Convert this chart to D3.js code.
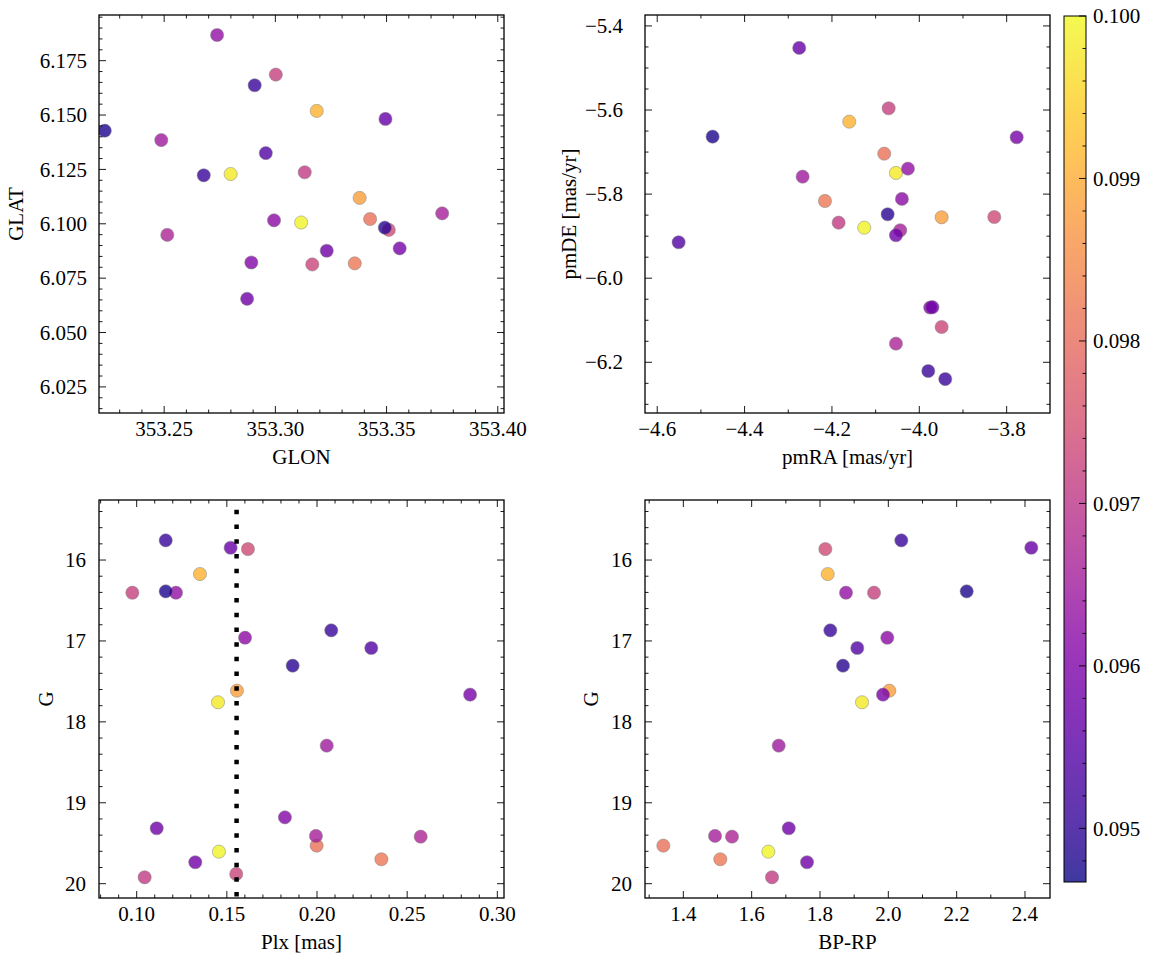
<!DOCTYPE html>
<html><head><meta charset="utf-8">
<script src="https://cdn.jsdelivr.net/npm/d3@7"></script>
<style>
html,body{margin:0;padding:0;background:#fff;}
text{font-family:"Liberation Serif","DejaVu Serif",serif;fill:#000;}
</style></head>
<body><svg id="fig" width="1155" height="965"></svg>
<script>
// ---------------- DATA (one entry per star) ----------------
const glon = [353.2678,353.3495,353.3510,353.3186,353.3002,353.2233,353.2738,353.2994,353.2907,353.2957,353.3492,353.3379,353.2799,353.3559,353.2487,353.2892,353.2873,353.3750,353.2514,353.3426,353.3116,353.3357,353.3231,353.3132,353.3166];
const glat = [6.1223,6.1482,6.0972,6.1519,6.1686,6.1428,6.1868,6.1016,6.1637,6.1325,6.0982,6.1119,6.1229,6.0887,6.1385,6.0822,6.0655,6.1048,6.0949,6.1022,6.1006,6.0818,6.0876,6.1237,6.0813];
const pmra = [-3.9795,-4.2749,-3.8284,-4.1604,-4.0702,-4.4732,-4.0260,-4.0398,-3.9406,-4.5510,-4.0725,-3.9489,-4.0535,-3.7771,-4.2671,-3.9751,-3.9700,-4.0437,-4.0535,-4.0803,-4.1261,-4.2160,-4.0535,-4.1847,-3.9489];
const pmde = [-6.2207,-5.4523,-5.8544,-5.6277,-5.5958,-5.6633,-5.7395,-5.8115,-6.2398,-5.9145,-5.8479,-5.8551,-5.7497,-5.6648,-5.7585,-6.0697,-6.0690,-5.8860,-6.1557,-5.7038,-5.8798,-5.8163,-5.8979,-5.8679,-6.1160];
const plx  = [0.1161,0.1521,0.1617,0.1351,0.0976,0.1161,0.1218,0.1601,0.2079,0.2301,0.1865,0.1556,0.1451,0.2849,0.2054,0.1822,0.1111,0.1994,0.2575,0.1998,0.1456,0.2357,0.1325,0.1044,0.1552];
const gmag = [15.757,15.848,15.864,16.173,16.404,16.387,16.404,16.960,16.869,17.087,17.306,17.615,17.758,17.664,18.294,19.180,19.315,19.410,19.419,19.530,19.604,19.698,19.735,19.921,19.880];
const bprp = [2.038,2.4185,1.8156,1.8226,1.9581,2.2294,1.8761,1.9970,1.8302,1.9092,1.8673,2.0029,1.9230,1.9844,1.6792,null,1.7085,1.4928,1.5425,1.3415,1.6488,1.5082,1.7620,1.6596,null];
const prob = [0.0951,0.0957,0.0974,0.0991,0.0972,0.0948,0.0963,0.0962,0.0951,0.0954,0.0949,0.0988,0.0998,0.0959,0.0965,0.0961,0.0958,0.0966,0.0967,0.0981,0.09995,0.0982,0.0958,0.0971,0.0973];
const plxRef = 0.1554;           // dotted reference line
const plxRefG = [15.38, 20.3];   // its G extent
const probRange = [0.09467, 0.1000];

// tick definitions
const glonTicks = [353.25,353.30,353.35,353.40];
const glatTicks = [6.025,6.050,6.075,6.100,6.125,6.150,6.175];
const pmraTicks = [-4.6,-4.4,-4.2,-4.0,-3.8];
const pmdeTicks = [-6.2,-6.0,-5.8,-5.6,-5.4];
const plxTicks  = [0.10,0.15,0.20,0.25,0.30];
const gTicks    = [16,17,18,19,20];
const bprpTicks = [1.4,1.6,1.8,2.0,2.2,2.4];
const cbarTicks = [0.095,0.096,0.097,0.098,0.099,0.100];

// ---------------- DRAWING ----------------
const svg = d3.select("#fig");
const color = d3.scaleSequential(d3.interpolatePlasma).domain(probRange);
const order = d3.range(prob.length).sort((a,b)=>prob[b]-prob[a]); // low prob on top
const fmt = (d,p)=> d3.format("."+p+"f")(d).replace("-","\u2212");

const panels = [
 {box:[99,504,15,413], xv:glon, yv:glat, xd:[353.2207,353.4028], yd:[6.0130,6.1960],
  xt:glonTicks, xm:0.01, xp:2, yt:glatTicks, ym:0.005, yp:3, xl:"GLON", yl:"GLAT", ylx:23, ypad:12},
 {box:[645,1050,15,413], xv:pmra, yv:pmde, xd:[-4.628,-3.7008], yd:[-6.3206,-5.374],
  xt:pmraTicks, xm:0.1, xp:1, yt:pmdeTicks, ym:0.05, yp:1, xl:"pmRA [mas/yr]", yl:"pmDE [mas/yr]", ylx:576, ypad:22},
 {box:[99,504,500,898], xv:plx, yv:gmag, xd:[0.0791,0.3037], yd:[20.177,15.258],
  xt:plxTicks, xm:0.01, xp:2, yt:gTicks, ym:0.2, yp:0, xl:"Plx [mas]", yl:"G", ylx:53, ypad:13, vline:true},
 {box:[645,1050,500,898], xv:bprp, yv:gmag, xd:[1.2878,2.4732], yd:[20.177,15.258],
  xt:bprpTicks, xm:0.1, xp:1, yt:gTicks, ym:0.2, yp:0, xl:"BP-RP", yl:"G", ylx:598, ypad:13}
];

function minorTicks(domain, step, majors){
  const lo=Math.min(...domain), hi=Math.max(...domain);
  const out=[];
  for(let k=Math.ceil(lo/step-1e-9); k*step<=hi+1e-12; k++){
    const v=k*step;
    if(!majors.some(m=>Math.abs(m-v)<step*0.01)) out.push(v);
  }
  return out;
}

panels.forEach((p,i)=>{
  const [x0,x1,y0,y1]=p.box;
  const xs=d3.scaleLinear().domain(p.xd).range([x0,x1]);
  const ys=d3.scaleLinear().domain(p.yd).range([y1,y0]);
  const g=svg.append("g");
  const cid="clip"+i;
  g.append("clipPath").attr("id",cid).append("rect").attr("x",x0).attr("y",y0).attr("width",x1-x0).attr("height",y1-y0);

  const pts=g.append("g").attr("clip-path",`url(#${cid})`);
  order.filter(k=>p.xv[k]!=null && p.yv[k]!=null).forEach(k=>{
    pts.append("circle").attr("cx",xs(p.xv[k])).attr("cy",ys(p.yv[k])).attr("r",6.6)
      .attr("fill",color(prob[k])).attr("stroke","#666").attr("stroke-width",0.5)
      .attr("opacity",0.8);
  });
  if(p.vline){
    pts.append("line").attr("x1",xs(plxRef)).attr("x2",xs(plxRef))
      .attr("y1",ys(plxRefG[0])).attr("y2",ys(plxRefG[1]))
      .attr("stroke","#000").attr("stroke-width",4.5).attr("stroke-dasharray","4.5,10.2");
  }

  // ticks (inward, all four sides)
  const tk=g.append("g").attr("stroke","#000").attr("stroke-width",0.9);
  const xMin=minorTicks(p.xd,p.xm,p.xt), yMin=minorTicks(p.yd,p.ym,p.yt);
  const drawX=(vals,len)=>vals.forEach(v=>{const X=xs(v); if(X<x0-0.5||X>x1+0.5) return;
    tk.append("line").attr("x1",X).attr("x2",X).attr("y1",y1).attr("y2",y1-len);
    tk.append("line").attr("x1",X).attr("x2",X).attr("y1",y0).attr("y2",y0+len);});
  const drawY=(vals,len)=>vals.forEach(v=>{const Y=ys(v); if(Y<y0-0.5||Y>y1+0.5) return;
    tk.append("line").attr("y1",Y).attr("y2",Y).attr("x1",x0).attr("x2",x0+len);
    tk.append("line").attr("y1",Y).attr("y2",Y).attr("x1",x1).attr("x2",x1-len);});
  drawX(p.xt,7); drawX(xMin,3.5); drawY(p.yt,7); drawY(yMin,3.5);

  g.append("rect").attr("x",x0).attr("y",y0).attr("width",x1-x0).attr("height",y1-y0)
    .attr("fill","none").attr("stroke","#000").attr("stroke-width",1.3);

  // tick labels
  p.xt.forEach(v=>{ g.append("text").attr("x",xs(v)).attr("y",y1+23).attr("text-anchor","middle")
    .attr("font-size",21).text(fmt(v,p.xp)); });
  p.yt.forEach(v=>{ g.append("text").attr("x",x0-p.ypad).attr("y",ys(v)).attr("dy","0.34em")
    .attr("text-anchor","end").attr("font-size",21).text(fmt(v,p.yp)); });

  // axis labels
  g.append("text").attr("x",(x0+x1)/2).attr("y",y1+51).attr("text-anchor","middle")
    .attr("font-size",21).text(p.xl);
  g.append("text").attr("transform",`translate(${p.ylx},${(y0+y1)/2}) rotate(-90)`)
    .attr("text-anchor","middle").attr("font-size",21).text(p.yl);
});

// ---------------- COLORBAR ----------------
const cb={x0:1064,x1:1086,y0:16,y1:882};
const cs=d3.scaleLinear().domain(probRange).range([cb.y1,cb.y0]);
const grad=svg.append("defs").append("linearGradient").attr("id","cbg")
  .attr("x1","0").attr("x2","0").attr("y1","1").attr("y2","0");
d3.range(0,1.0001,0.02).forEach(t=>{
  grad.append("stop").attr("offset",t).attr("stop-color",d3.interpolatePlasma(t));
});
svg.append("rect").attr("x",cb.x0).attr("y",cb.y0).attr("width",cb.x1-cb.x0).attr("height",cb.y1-cb.y0)
  .attr("fill","url(#cbg)").attr("opacity",0.8);
const ct=svg.append("g").attr("stroke","#000").attr("stroke-width",0.9);
cbarTicks.forEach(v=>{ct.append("line").attr("x1",cb.x1).attr("x2",cb.x1-7).attr("y1",cs(v)).attr("y2",cs(v));});
minorTicks(probRange,0.0002,cbarTicks).forEach(v=>{ct.append("line").attr("x1",cb.x1).attr("x2",cb.x1-3.5).attr("y1",cs(v)).attr("y2",cs(v));});
svg.append("rect").attr("x",cb.x0).attr("y",cb.y0).attr("width",cb.x1-cb.x0).attr("height",cb.y1-cb.y0)
  .attr("fill","none").attr("stroke","#000").attr("stroke-width",1);
cbarTicks.forEach(v=>{svg.append("text").attr("x",cb.x1+7).attr("y",cs(v)).attr("dy","0.34em")
  .attr("font-size",21).text(fmt(v,3));});
</script></body></html>
